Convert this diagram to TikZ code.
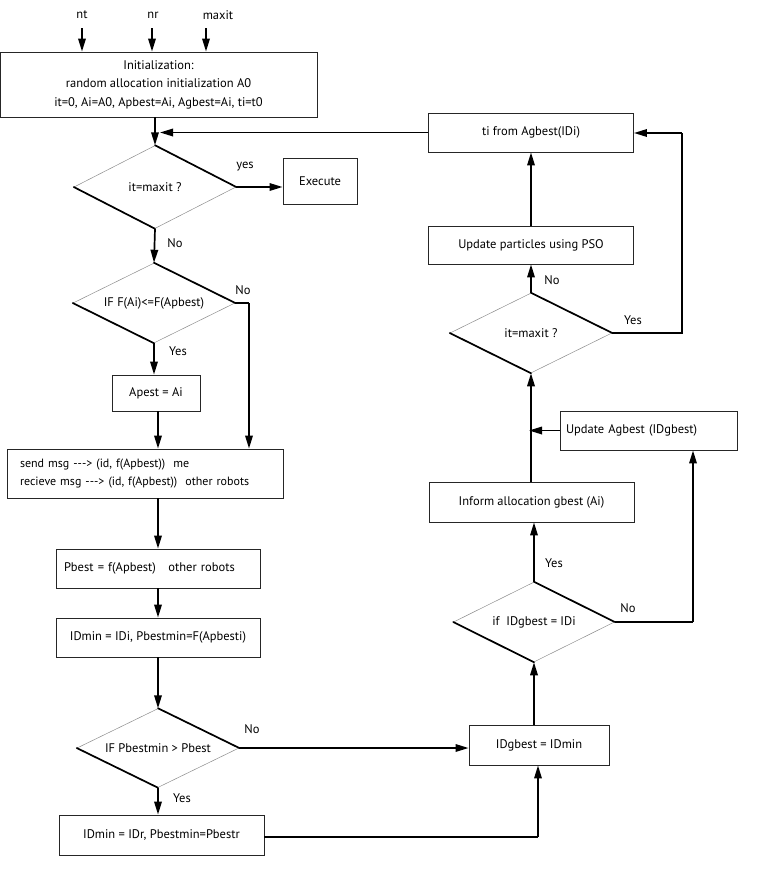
\documentclass[tikz,border=0pt]{standalone}
\usepackage{fontspec}
\setmainfont{PT Sans}
\usetikzlibrary{shapes.geometric,arrows.meta}
\tikzset{
  every node/.style={font=\fontsize{12.5}{18.5}\selectfont},
  box/.style={draw=black!85, line width=0.9pt, rectangle, inner sep=0pt},
  dia/.style={draw=black!45, line width=0.5pt, diamond, aspect=2, inner sep=0pt},
  arr/.style={line width=1.7pt, -{Triangle[length=13pt,width=7.5pt]}},
  ln/.style={line width=1.7pt},
  thk/.style={line width=1.7pt, line cap=round},
  lbl/.style={inner sep=0pt}
}
\begin{document}
\begin{tikzpicture}[x=1pt,y=-1pt]
\useasboundingbox (0,0) rectangle (762,876);
% inputs
\node[lbl] (nt) at (82,15) {nt};
\node[lbl] (nr) at (153,15) {nr};
\node[lbl] (mx) at (218,15) {maxit};
\coordinate (ntc) at (82,28);
\coordinate (nrc) at (152,28);
\coordinate (mxc) at (206,28);
% boxes
\node[box, minimum width=317, minimum height=65, align=center] (init) at (158.5,84.5)
  {Initialization:\\random allocation initialization A0\\it=0, Ai=A0, Apbest=Ai, Agbest=Ai, ti=t0};
\node[dia, minimum width=162, minimum height=83] (d1) at (155,187) {it=maxit ?};
\node[box, minimum width=74, minimum height=46] (exec) at (320,181) {Execute};
\node[dia, minimum width=162, minimum height=80] (d2) at (154,303) {IF F(Ai)<=F(Apbest)};
\node[box, minimum width=88, minimum height=36] (apest) at (156,393) {Apest = Ai};
\node[box, minimum width=276, minimum height=49, text width=250pt, inner xsep=13pt, align=left,
      font=\fontsize{12}{17.5}\selectfont] (send) at (145,473.5)
  {send msg -{}-{}-> (id, f(Apbest))\ \ me\\recieve msg -{}-{}-> (id, f(Apbest))\ \ other robots};
\node[box, minimum width=204, minimum height=39, text width=188pt, align=left] (pbest) at (158,568.5)
  {Pbest = f(Apbest)\quad other robots};
\node[box, minimum width=204, minimum height=39] (idmin) at (158,637.5) {IDmin = IDi, Pbestmin=F(Apbesti)};
\node[dia, minimum width=162, minimum height=79] (d3) at (158,748) {IF Pbestmin > Pbest};
\node[box, minimum width=205, minimum height=40] (idr) at (161.5,835) {IDmin = IDr, Pbestmin=Pbestr};
\node[box, minimum width=140, minimum height=40] (idg) at (539,745) {IDgbest = IDmin};
\node[dia, minimum width=161, minimum height=80] (d4) at (534,622) {if\ \ IDgbest = IDi};
\node[box, minimum width=205, minimum height=40] (inf) at (531.5,502) {Inform allocation gbest (Ai)};
\node[box, minimum width=177, minimum height=39, text width=165pt, align=left] (upd) at (648.5,430.5) {Update Agbest (IDgbest)};
\node[dia, minimum width=162, minimum height=80] (d5) at (531,333) {it=maxit ?};
\node[box, minimum width=205, minimum height=38] (upt) at (531,245) {Update particles using PSO};
\node[box, minimum width=205, minimum height=39] (ti) at (531,132.5) {ti from Agbest(IDi)};
% thick diamond edges
\foreach \d in {d1,d2,d3,d4,d5}{
  \draw[thk] (\d.north) -- (\d.east);
  \draw[thk] (\d.west) -- (\d.south);
}
% input arrows
\draw[arr] (ntc) -- (ntc |- init.north);
\draw[arr] (nrc) -- (nrc |- init.north);
\draw[arr] (mxc) -- (mxc |- init.north);
% left column
\draw[arr] (d1.north |- init.south) -- (d1.north);
\draw[arr] (ti.west) -- ([xshift=5pt]d1.north |- ti.west);
\draw[arr] (d1.east) -- (d1.east -| exec.west);
\node[lbl] (yes1) at (245,167) {yes};
\draw[arr] (d1.south) -- (d2.north);
\node[lbl] (no1) at (175,243) {No};
\coordinate (c2) at (249,303);
\draw[ln] (d2.east) -- (c2);
\draw[arr] (c2) -- (c2 |- send.north);
\node[lbl] (no2) at (243,290) {No};
\draw[arr] (d2.south) -- (d2.south |- apest.north);
\node[lbl] (yes2) at (178,351) {Yes};
\draw[arr] (apest.south -| 158,0) -- (send.north -| 158,0);
\draw[arr] (send.south -| 158,0) -- (pbest.north);
\draw[arr] (pbest.south) -- (idmin.north);
\draw[arr] (idmin.south) -- (d3.north);
\draw[arr] (d3.south) -- (d3.south |- idr.north);
\node[lbl] (yes3) at (182,798) {Yes};
\draw[arr] (d3.east) -- (d3.east -| idg.west);
\node[lbl] (no3) at (252,729) {No};
\coordinate (c3) at (538,837);
\draw[ln] (idr.east |- c3) -- (c3);
\draw[arr] (c3) -- (c3 |- idg.south);
% right column
\draw[arr] (idg.north -| d4.south) -- (d4.south);
\draw[arr] (d4.north) -- (d4.north |- inf.south);
\node[lbl] (yes4) at (554,563) {Yes};
\coordinate (c4) at (693,622);
\draw[ln] (d4.east) -- (c4);
\draw[arr] (c4) -- (c4 |- upd.south);
\node[lbl] (no4) at (628,608) {No};
\draw[arr] (inf.north -| d5.south) -- (d5.south);
\draw[arr] (upd.west) -- ([xshift=-2pt]d5.south |- upd.west);
\draw[arr] (d5.north) -- (d5.north |- upt.south);
\node[lbl] (no5) at (552,280) {No};
\coordinate (c5) at (682,333);
\coordinate (c6) at (682,133);
\draw[ln] (d5.east) -- (c5) -- (c6);
\draw[arr] (c6) -- (c6 -| ti.east);
\node[lbl] (yes5) at (633,320) {Yes};
\draw[arr] (upt.north) -- (ti.south);
\end{tikzpicture}
\end{document}
